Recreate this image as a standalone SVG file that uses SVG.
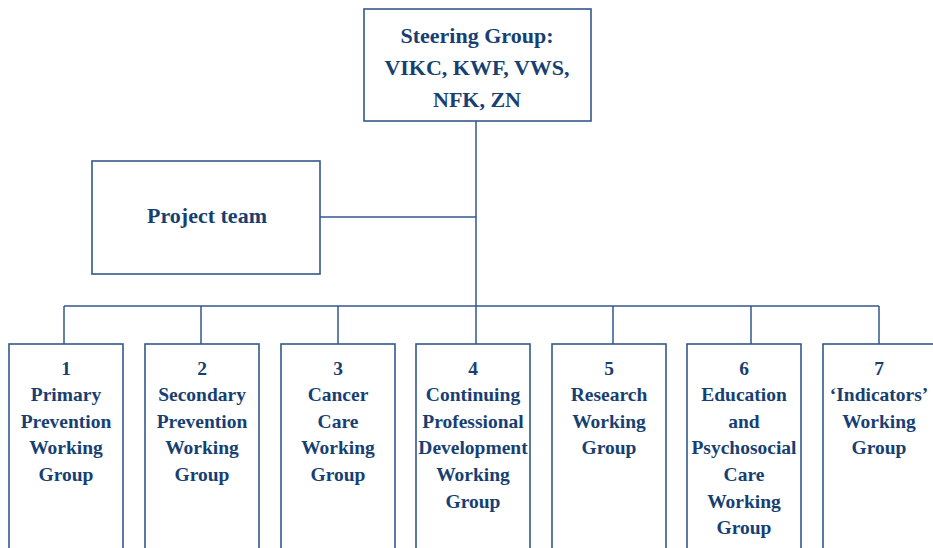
<svg xmlns="http://www.w3.org/2000/svg" width="933" height="548" viewBox="0 0 933 548">
<style>
.box{fill:#fff;stroke:#33588c;stroke-width:1.6}
.ln{stroke:#33588c;stroke-width:1.5;fill:none}
text{font-family:"Liberation Serif","Times New Roman",serif;font-weight:bold;fill:#173f72;text-anchor:middle}
.big{font-size:22px}
.sm{font-size:19.5px}
</style>
<rect width="933" height="548" fill="#fff"/>
<g id="connectors">
<path class="ln" d="M476 121V306M320 217H476M64 306H879M64 306V344M201 306V344M338 306V344M476 306V344M613 306V344M751 306V344M879 306V344"/>
</g>
<g id="steering">
<rect class="box" x="364" y="9" width="227" height="112"/>
<text class="big" x="477" y="43">Steering Group:</text>
<text class="big" x="477" y="75">VIKC, KWF, VWS,</text>
<text class="big" x="477" y="107">NFK, ZN</text>
</g>
<g id="project">
<rect class="box" x="92" y="161" width="228" height="113"/>
<text class="big" x="207" y="223">Project team</text>
</g>
<g id="wg1">
<rect class="box" x="9" y="344" width="114" height="210"/>
<text class="sm" x="66" y="375">1</text>
<text class="sm" x="66" y="401">Primary</text>
<text class="sm" x="66" y="428">Prevention</text>
<text class="sm" x="66" y="454">Working</text>
<text class="sm" x="66" y="481">Group</text>
</g>
<g id="wg2">
<rect class="box" x="145" y="344" width="114" height="210"/>
<text class="sm" x="202" y="375">2</text>
<text class="sm" x="202" y="401">Secondary</text>
<text class="sm" x="202" y="428">Prevention</text>
<text class="sm" x="202" y="454">Working</text>
<text class="sm" x="202" y="481">Group</text>
</g>
<g id="wg3">
<rect class="box" x="281" y="344" width="114" height="210"/>
<text class="sm" x="338" y="375">3</text>
<text class="sm" x="338" y="401">Cancer</text>
<text class="sm" x="338" y="428">Care</text>
<text class="sm" x="338" y="454">Working</text>
<text class="sm" x="338" y="481">Group</text>
</g>
<g id="wg4">
<rect class="box" x="416" y="344" width="114" height="210"/>
<text class="sm" x="473" y="375">4</text>
<text class="sm" x="473" y="401">Continuing</text>
<text class="sm" x="473" y="428">Professional</text>
<text class="sm" x="473" y="454">Development</text>
<text class="sm" x="473" y="481">Working</text>
<text class="sm" x="473" y="508">Group</text>
</g>
<g id="wg5">
<rect class="box" x="552" y="344" width="114" height="210"/>
<text class="sm" x="609" y="375">5</text>
<text class="sm" x="609" y="401">Research</text>
<text class="sm" x="609" y="428">Working</text>
<text class="sm" x="609" y="454">Group</text>
</g>
<g id="wg6">
<rect class="box" x="687" y="344" width="114" height="210"/>
<text class="sm" x="744" y="375">6</text>
<text class="sm" x="744" y="401">Education</text>
<text class="sm" x="744" y="428">and</text>
<text class="sm" x="744" y="454">Psychosocial</text>
<text class="sm" x="744" y="481">Care</text>
<text class="sm" x="744" y="508">Working</text>
<text class="sm" x="744" y="534">Group</text>
</g>
<g id="wg7">
<rect class="box" x="823" y="344" width="114" height="210"/>
<text class="sm" x="879" y="375">7</text>
<text class="sm" x="879" y="401">‘Indicators’</text>
<text class="sm" x="879" y="428">Working</text>
<text class="sm" x="879" y="454">Group</text>
</g>
</svg>
